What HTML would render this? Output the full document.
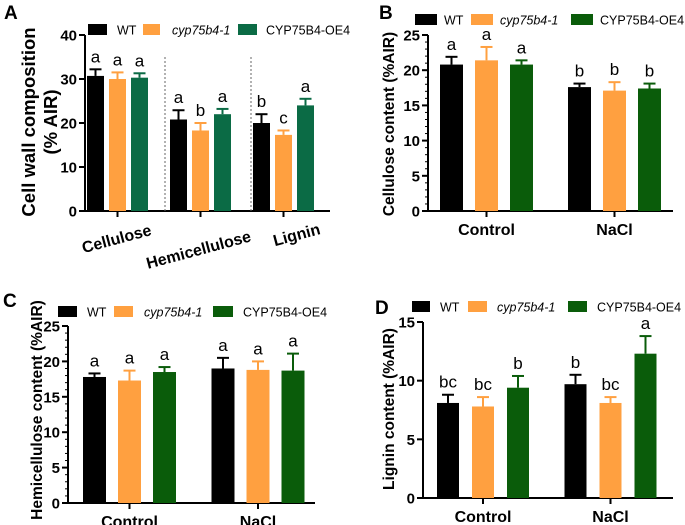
<!DOCTYPE html>
<html><head><meta charset="utf-8">
<style>
body{margin:0;background:#fff;}
svg{display:block;font-family:"Liberation Sans",Arial,sans-serif;}
.tick{font-size:15px;font-weight:bold;fill:#000;}
.cat{font-size:16px;font-weight:bold;fill:#000;}
.leg{font-size:12.5px;fill:#000;}
.sig{font-size:17px;fill:#000;}
.ttl{font-size:15.5px;font-weight:bold;fill:#000;}
.ttlA{font-size:18.5px;font-weight:bold;fill:#000;}
.pl{font-size:19px;font-weight:bold;fill:#000;}
</style></head>
<body>
<svg id="fig" width="685" height="525" viewBox="0 0 685 525"></svg>
<script>
// Series / category data
const seriesNames = ["WT", "cyp75b4-1", "CYP75B4-OE4"];
const catsA = ["Cellulose", "Hemicellulose", "Lignin"];
const meanA = [[30.7, 20.8, 20.0], [30.0, 18.3, 17.3], [30.3, 22.0, 24.0]];
const errA  = [[1.5, 2.1, 2.0], [1.5, 1.7, 1.0], [1.0, 1.2, 1.5]];
const sigA  = [["a", "a", "b"], ["a", "b", "c"], ["a", "a", "a"]];
const ticksA = [0, 10, 20, 30, 40];

const catsB = ["Control", "NaCl"];
const meanB = [[20.8, 17.6], [21.4, 17.1], [20.8, 17.4]];
const errB  = [[1.1, 0.5], [1.9, 1.2], [0.6, 0.7]];
const sigB  = [["a", "b"], ["a", "b"], ["a", "b"]];
const ticksB = [0, 5, 10, 15, 20, 25];

const catsC = ["Control", "NaCl"];
const meanC = [[17.8, 19.0], [17.3, 18.8], [18.5, 18.7]];
const errC  = [[0.5, 1.5], [1.4, 1.2], [0.7, 2.4]];
const sigC  = [["a", "a"], ["a", "a"], ["a", "a"]];
const ticksC = [0, 5, 10, 15, 20, 25];

const catsD = ["Control", "NaCl"];
const meanD = [[8.1, 9.7], [7.8, 8.1], [9.4, 12.3]];
const errD  = [[0.7, 0.8], [0.8, 0.5], [1.0, 1.5]];
const sigD  = [["bc", "b"], ["bc", "bc"], ["b", "a"]];
const ticksD = [0, 5, 10, 15];

const NS = "http://www.w3.org/2000/svg";
const svg = document.getElementById("fig");
function mk(tag, attrs, parent, txt){
  const e = document.createElementNS(NS, tag);
  for (const k in attrs) e.setAttribute(k, attrs[k]);
  if (txt !== undefined) e.textContent = txt;
  (parent || svg).appendChild(e);
  return e;
}

function panel(cfg){
  const g = mk("g", {});
  
  
  const yMax = cfg.ticks[cfg.ticks.length-1];
  const ys = v => cfg.y0 - (v / yMax) * (cfg.y0 - cfg.yTop);
  const xs = (ci, si) => cfg.x0 + cfg.firstOff + ci * cfg.groupStep + si * cfg.stride;
  const ya = mk("line", {x1:cfg.axX, y1:cfg.yTop, x2:cfg.axX, y2:cfg.y0+1, stroke:"#000","stroke-width":2}, g);
  
  
  const xa = mk("line", {x1:cfg.axX-1, y1:cfg.y0, x2:cfg.axEnd, y2:cfg.y0, stroke:"#000","stroke-width":2}, g);
  
  
  cfg.ticks.forEach(t => {
    const y = ys(t);
    mk("line", {x1:cfg.axX-6, y1:y, x2:cfg.axX, y2:y, stroke:"#000","stroke-width":2}, g);
    const tl = mk("text", {x:cfg.axX-8, y:y+5.5, "text-anchor":"end", class:"tick"}, g, t);
    
    
  });
  if (cfg.minor) {
    for (let v = 0; v <= yMax; v += cfg.minor) {
      const y = ys(v);
      mk("line", {x1:cfg.axX-3, y1:y, x2:cfg.axX, y2:y, stroke:"#000","stroke-width":1}, g);
    }
  }
  (cfg.seps || []).forEach(sx => {
    mk("line", {x1:sx, y1:cfg.yTop+22, x2:sx, y2:cfg.y0, stroke:"#666","stroke-width":1,"stroke-dasharray":"2,2"}, g);
  });
  cfg.cats.forEach((c, ci) => {
    const cx = xs(ci, 1) + cfg.bw/2;
    mk("line", {x1:cx, y1:cfg.y0, x2:cx, y2:cfg.y0+6, stroke:"#000","stroke-width":2}, g);
    let lab;
    if (cfg.rot) {
      const p = cfg.rot[ci];
      lab = mk("text", {x:p[0], y:p[1], "text-anchor":"middle", class:"cat", transform:`rotate(-15 ${p[0]} ${p[1]})`}, g, c);
    } else {
      lab = mk("text", {x:cx, y:cfg.y0+24, "text-anchor":"middle", class:"cat"}, g, c);
    }
    
    
    for (let si = 0; si < 3; si++) {
      const v = cfg.mean[si][ci], e = cfg.err[si][ci];
      const x = xs(ci, si), col = cfg.colors[si];
      const top = ys(v), et = ys(v + e);
      const bc = x + cfg.bw/2;
      const el = mk("line", {x1:bc, y1:top, x2:bc, y2:et, stroke:col,"stroke-width":2}, g);
      
      
      mk("line", {x1:bc-6, y1:et, x2:bc+6, y2:et, stroke:col,"stroke-width":2}, g);
      const r = mk("rect", {x:x, y:top, width:cfg.bw, height:cfg.y0-top, fill:col}, g);
      
      
      const s = mk("text", {x:bc, y:et-7, "text-anchor":"middle", class:"sig"}, g, cfg.sig[si][ci]);
      
      
    }
  });
  cfg.leg.forEach((lx, si) => {
    const sw = mk("rect", {x:lx[0], y:cfg.legY-6, width:lx[1]-lx[0], height:11, fill:cfg.colors[si]}, g);
    
    
    const t = mk("text", {x:lx[2], y:cfg.legY+4.5, class:"leg", "font-style": si===1 ? "italic" : "normal"}, g, seriesNames[si]);
    
    
  });
  cfg.title.forEach((tt, i) => {
    const yt = mk("text", {x:tt[1], y:cfg.titleY, "text-anchor":"middle", class:cfg.titleClass||"ttl", transform:`rotate(-90 ${tt[1]} ${cfg.titleY})`}, g, tt[0]);
    
    
  });
  const pl = mk("text", {x:cfg.pl[0], y:cfg.pl[1], class:"pl"}, g, cfg.pl[2]);
  
  
}

const green1 = ["#000000", "#FFA040", "#0B6B45"];
const green2 = ["#000000", "#FFA040", "#0A5C0A"];

panel({name:"panel-a", cats:catsA, mean:meanA, err:errA, sig:sigA, ticks:ticksA, colors:green1,
  axX:85, x0:85, y0:211, yTop:35, axEnd:330, firstOff:2, groupStep:83, stride:22, bw:17,
  seps:[165, 251], rot:[[118,244],[200,255],[298,240]],
  leg:[[88,107,117],[143,160,172],[238,257,266]], legY:30, titleClass:"ttlA",
  title:[["Cell wall composition",35],["(% AIR)",57]], titleY:122, pl:[4,19,"A"]});

panel({name:"panel-b", cats:catsB, mean:meanB, err:errB, sig:sigB, ticks:ticksB, colors:green2,
  axX:428, x0:428, y0:211, yTop:35, axEnd:673, firstOff:12, groupStep:128, stride:35, bw:23, minor:1,
  leg:[[415,437,444],[471,493,500],[571,593,600]], legY:20,
  title:[["Cellulose content (%AIR)",394]], titleY:124, pl:[379,19,"B"]});

panel({name:"panel-c", cats:catsC, mean:meanC, err:errC, sig:sigC, ticks:ticksC, colors:green2,
  axX:68, x0:68, y0:503, yTop:326, axEnd:315, firstOff:15, groupStep:128.5, stride:35, bw:23, minor:1,
  leg:[[58,77,87],[114,133,144],[213,233,243]], legY:312,
  title:[["Hemicellulose content (%AIR)",42]], titleY:410, pl:[3,307,"C"]});

panel({name:"panel-d", cats:catsD, mean:meanD, err:errD, sig:sigD, ticks:ticksD, colors:green2,
  axX:423, x0:423, y0:498, yTop:322, axEnd:673, firstOff:14, groupStep:127.5, stride:35, bw:22,
  leg:[[412,430,440],[468,487,497],[568,587,597]], legY:307,
  title:[["Lignin content (%AIR)",394]], titleY:409, pl:[375,314,"D"]});
</script>
</body></html>
